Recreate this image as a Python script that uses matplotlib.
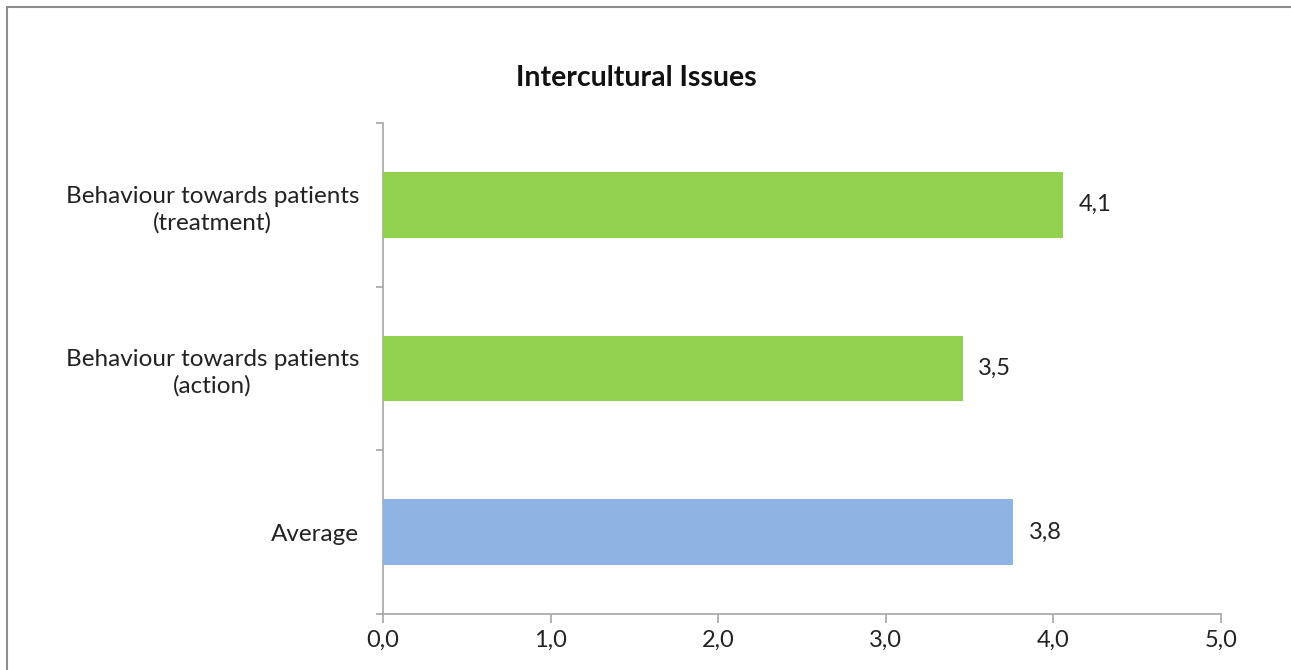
import matplotlib.pyplot as plt
from matplotlib.patches import Rectangle

# Survey scores (scale 0-5)
categories = ["Average", "Behaviour towards patients\n(action)", "Behaviour towards patients\n(treatment)"]
scores = [3.76, 3.46, 4.06]
bar_colors = ["#8eb4e3", "#92d050", "#92d050"]
x_ticks = [0, 1, 2, 3, 4, 5]

plt.rcParams['font.family'] = ['Lato', 'DejaVu Sans']

fig = plt.figure(figsize=(12.91, 6.70), dpi=100)
ax = fig.add_axes([383 / 1291, 1 - 614 / 670, (1221 - 383) / 1291, (614 - 123) / 670])

ypos = list(range(len(categories)))
ax.barh(ypos, scores, height=0.4, color=bar_colors, zorder=3)

for y, v in zip(ypos, scores):
    ax.annotate(f"{v:.1f}".replace(".", ","), xy=(v, y), xytext=(11, 0),
                textcoords="offset points", va="center", ha="left",
                fontsize=17, color="#222222")

ax.set_xlim(0, 5)
ax.set_ylim(-0.5, len(categories) - 0.5)

# x axis
ax.set_xticks(x_ticks)
ax.set_xticklabels([f"{t:.1f}".replace(".", ",") for t in x_ticks], fontsize=17, color="#222222")
ax.tick_params(axis="x", direction="out", length=6.5, width=1.2, color="#a6a6a6", pad=5)

# y axis: ticks between categories, labels centred on bars
ax.set_yticks([i - 0.5 for i in range(len(categories) + 1)])
ax.set_yticklabels([])
ax.set_yticks(ypos, minor=True)
ax.set_yticklabels(categories, minor=True, fontsize=17.5, color="#222222",
                   multialignment="center", linespacing=1.3)
ax.tick_params(axis="y", which="major", direction="out", length=5, width=1.2, color="#a6a6a6")
ax.tick_params(axis="y", which="minor", length=0, pad=17)

for side in ["top", "right"]:
    ax.spines[side].set_visible(False)
for side in ["left", "bottom"]:
    ax.spines[side].set_color("#a6a6a6")
    ax.spines[side].set_linewidth(1.2)

fig.text(636 / 1291, 1 - 78 / 670, "Intercultural Issues", ha="center", va="center",
         fontsize=20.5, fontweight="bold", color="#111111")

# outer frame
fig.patches.append(Rectangle((7 / 1291, -0.1), 1.2, 1 - 7 / 670 + 0.1, transform=fig.transFigure,
                             fill=False, edgecolor="#8c8c8c", linewidth=1.5))

fig.savefig("out.png", dpi=100)
